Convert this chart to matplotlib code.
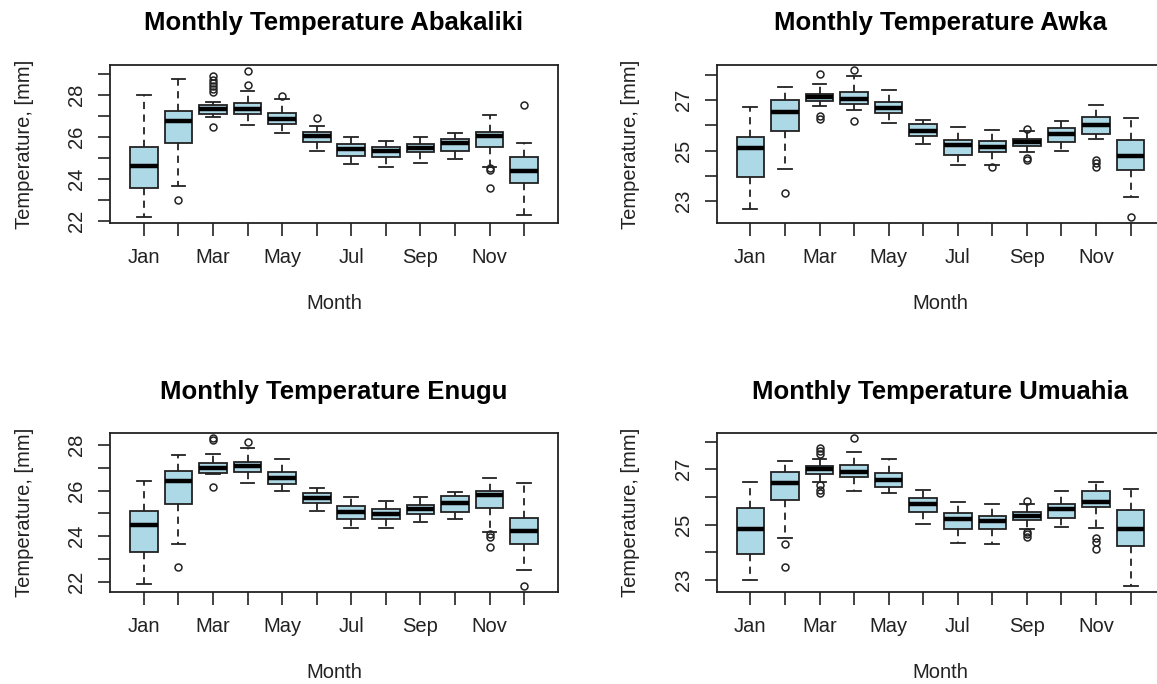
import matplotlib
matplotlib.use("Agg")
import matplotlib.pyplot as plt

months = ["Jan", "Feb", "Mar", "Apr", "May", "Jun",
          "Jul", "Aug", "Sep", "Oct", "Nov", "Dec"]

# (whisker low, Q1, median, Q3, whisker high) per month
abakaliki_box = [
    (22.16, 23.54, 24.63, 25.50, 28.00),
    (23.66, 25.72, 26.76, 27.24, 28.75),
    (26.93, 27.08, 27.32, 27.52, 27.68),
    (26.55, 27.09, 27.32, 27.60, 28.21),
    (26.20, 26.60, 26.85, 27.12, 27.79),
    (25.33, 25.77, 26.03, 26.22, 26.54),
    (24.69, 25.10, 25.42, 25.66, 25.98),
    (24.55, 25.02, 25.34, 25.50, 25.80),
    (24.77, 25.29, 25.49, 25.64, 25.98),
    (24.96, 25.31, 25.72, 25.92, 26.20),
    (24.55, 25.50, 26.03, 26.22, 27.03),
    (22.29, 23.78, 24.36, 25.02, 25.72),
]
abakaliki_out = [[], [22.99], [28.90, 28.70, 28.55, 28.45, 28.30, 28.15, 26.49],
                 [29.16, 28.48], [27.95], [26.92], [], [], [], [],
                 [24.50, 24.40, 23.54], [27.51]]

awka_box = [
    (22.71, 23.95, 25.09, 25.54, 26.72),
    (24.29, 25.78, 26.51, 27.01, 27.53),
    (26.75, 26.95, 27.11, 27.24, 27.63),
    (26.62, 26.84, 27.03, 27.30, 27.93),
    (26.08, 26.50, 26.67, 26.91, 27.41),
    (25.26, 25.58, 25.78, 26.05, 26.20),
    (24.42, 24.84, 25.21, 25.43, 25.93),
    (24.42, 24.95, 25.13, 25.37, 25.82),
    (24.93, 25.20, 25.33, 25.47, 25.78),
    (25.00, 25.32, 25.66, 25.88, 26.16),
    (25.47, 25.66, 26.01, 26.33, 26.79),
    (23.16, 24.24, 24.80, 25.42, 26.28),
]
awka_out = [[], [23.34], [28.04, 26.37, 26.25], [28.18, 26.17], [], [], [],
            [24.34], [25.87, 24.70, 24.63], [], [24.63, 24.50, 24.37], [22.37]]

enugu_box = [
    (21.88, 23.32, 24.47, 25.10, 26.43),
    (23.65, 25.41, 26.42, 26.87, 27.56),
    (26.72, 26.79, 27.00, 27.20, 27.61),
    (26.32, 26.80, 27.09, 27.25, 27.88),
    (25.98, 26.29, 26.57, 26.81, 27.37),
    (25.10, 25.47, 25.69, 25.88, 26.11),
    (24.34, 24.77, 25.06, 25.31, 25.73),
    (24.34, 24.77, 24.97, 25.18, 25.56),
    (24.60, 24.97, 25.19, 25.37, 25.73),
    (24.74, 25.04, 25.47, 25.75, 25.94),
    (24.20, 25.22, 25.82, 26.00, 26.57),
    (22.51, 23.65, 24.24, 24.80, 26.32),
]
enugu_out = [[], [22.63], [28.29, 28.20, 26.17], [28.15], [], [], [], [], [], [],
             [24.10, 23.95, 23.54], [21.82]]

umuahia_box = [
    (23.00, 23.93, 24.83, 25.60, 26.53),
    (24.51, 25.89, 26.49, 26.89, 27.31),
    (26.55, 26.84, 27.00, 27.12, 27.37),
    (26.22, 26.73, 26.92, 27.17, 27.61),
    (26.13, 26.37, 26.61, 26.86, 27.36),
    (25.02, 25.47, 25.76, 25.98, 26.25),
    (24.35, 24.86, 25.20, 25.41, 25.81),
    (24.30, 24.86, 25.14, 25.30, 25.75),
    (24.84, 25.17, 25.31, 25.46, 25.75),
    (24.93, 25.23, 25.55, 25.76, 26.22),
    (24.87, 25.64, 25.83, 26.22, 26.53),
    (22.80, 24.24, 24.83, 25.54, 26.28),
]
umuahia_out = [[], [24.30, 23.48],
               [27.76, 27.66, 27.55, 26.43, 26.25, 26.13], [28.12], [], [], [],
               [], [25.86, 24.75, 24.66, 24.57], [], [24.51, 24.39, 24.14], []]

stations = ["Abakaliki", "Awka", "Enugu", "Umuahia"]
boxes = [abakaliki_box, awka_box, enugu_box, umuahia_box]
outliers = [abakaliki_out, awka_out, enugu_out, umuahia_out]
y_ticks = [range(22, 30), range(23, 29), range(22, 29), range(23, 29)]
y_labels = [range(22, 30, 2), range(23, 29, 2), range(22, 29, 2), range(23, 29, 2)]
y_limits = [(21.89, 29.43), (22.14, 28.38), (21.56, 28.51), (22.58, 28.30)]

plt.rcParams["font.family"] = ["Liberation Sans", "DejaVu Sans"]

W, H = 1157, 684
fig = plt.figure(figsize=(W / 100, H / 100), dpi=100)

# panel frames in pixels: left, top, width, height
frames = [(110, 65, 448, 158), (716.5, 65, 448, 158),
          (110, 433.3, 448, 158.4), (716.5, 433.3, 448, 158.4)]

for i, name in enumerate(stations):
    l, t, w, h = frames[i]
    ax = fig.add_axes([l / W, (H - t - h) / H, w / W, h / H])
    stats = []
    for (lo, q1, med, q3, hi), fl in zip(boxes[i], outliers[i]):
        stats.append(dict(whislo=lo, q1=q1, med=med, q3=q3, whishi=hi, fliers=fl))
    ax.bxp(stats, positions=range(1, 13), widths=0.8, capwidths=0.4,
           patch_artist=True, manage_ticks=False,
           boxprops=dict(facecolor="lightblue", edgecolor="#222222", linewidth=1.3),
           medianprops=dict(color="black", linewidth=3.2, solid_capstyle="butt"),
           whiskerprops=dict(color="#222222", linewidth=1.3, linestyle=(0, (4, 3))),
           capprops=dict(color="#222222", linewidth=1.3),
           flierprops=dict(marker="o", markersize=5, markerfacecolor="none",
                           markeredgecolor="#222222", markeredgewidth=1.1))
    ax.set_xlim(0.02, 12.98)
    ax.set_ylim(*y_limits[i])
    ax.set_xticks(range(1, 13))
    ax.set_xticklabels([m if k % 2 == 0 else "" for k, m in enumerate(months)])
    ax.set_yticks(list(y_ticks[i]))
    ax.set_yticklabels([str(v) if v in y_labels[i] else "" for v in y_ticks[i]],
                       rotation=90, va="center")
    ax.tick_params(axis="both", direction="out", length=9, width=1.2,
                   labelsize=14.5, color="#222222", labelcolor="#222222")
    ax.tick_params(axis="x", pad=9)
    ax.tick_params(axis="y", pad=8)
    for s in ax.spines.values():
        s.set_linewidth(1.3)
        s.set_color("#222222")
    ax.set_title(f"Monthly Temperature {name}", fontsize=18.5,
                 fontweight="bold", pad=25)
    ax.set_xlabel("Month", fontsize=14.5, color="#222222")
    ax.set_ylabel("Temperature, [mm]", fontsize=14.5, color="#222222")
    ax.xaxis.set_label_coords(0.5, -0.45)
    ax.yaxis.set_label_coords(-0.17, 0.5)

fig.savefig("out.png", dpi=100)
